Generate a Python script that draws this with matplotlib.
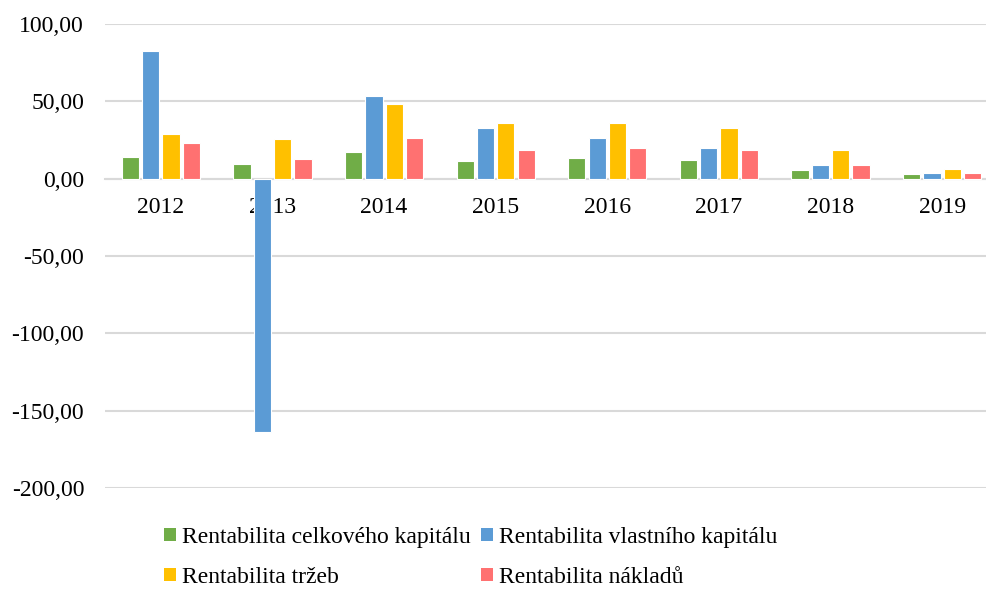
import numpy as np
import matplotlib.pyplot as plt
from matplotlib.patches import Patch
from matplotlib.ticker import FuncFormatter

plt.rcParams['font.family'] = ['Liberation Serif', 'DejaVu Serif']

years = ['2012', '2013', '2014', '2015', '2016', '2017', '2018', '2019']
labels = ['Rentabilita celkového kapitálu', 'Rentabilita vlastního kapitálu',
          'Rentabilita tržeb', 'Rentabilita nákladů']
colors = ['#70AD47', '#5B9BD5', '#FFC000', '#FF7171']

celk = [13.9, 9.5, 17.5, 11.7, 13.4, 12.1, 5.8, 3.0]
vlast = [82.3, -163.8, 53.2, 32.7, 26.6, 19.7, 8.9, 3.9]
trzeb = [28.8, 25.8, 48.5, 36.0, 36.0, 32.5, 18.4, 6.3]
naklad = [23.0, 13.0, 26.6, 18.6, 19.9, 18.6, 8.9, 3.7]
series = [celk, vlast, trzeb, naklad]

fig = plt.figure(figsize=(9.86, 5.89), dpi=100)
ax = fig.add_axes([105/986, 1-488/589, 893/986, 464/589])

x = np.arange(len(years))
pitch = 0.182
w = 0.155
for i, (vals, c) in enumerate(zip(series, colors)):
    ax.bar(x + (i - 1.5) * pitch, vals, w, color=c, edgecolor='white',
           linewidth=0.8, zorder=3)

ax.set_xlim(-0.5, len(years) - 0.5)
ax.set_ylim(-200, 100)
ax.set_yticks(np.arange(-200, 101, 50))
ax.yaxis.set_major_formatter(FuncFormatter(lambda v, p: f'{v:.2f}'.replace('.', ',')))
ax.grid(axis='y', color='#d9d9d9', linewidth=1.5, zorder=0)
ax.set_axisbelow(True)

for s in ['top', 'right', 'left']:
    ax.spines[s].set_visible(False)
ax.spines['bottom'].set_position(('data', 0))
ax.spines['bottom'].set_color('#d9d9d9')
ax.spines['bottom'].set_linewidth(1.5)

ax.set_xticks(x)
ax.set_xticklabels(years)
ax.tick_params(axis='both', length=0, labelsize=17, colors='black')
ax.tick_params(axis='y', pad=15)
ax.tick_params(axis='x', pad=13)

order = [0, 2, 1, 3]
handles = [Patch(facecolor=colors[i], edgecolor='none') for i in order]
fig.legend(handles, [labels[i] for i in order], ncol=2, loc='upper left',
           bbox_to_anchor=(164/986, 1-527/589), frameon=False, fontsize=17,
           borderpad=0, borderaxespad=0,
           handlelength=0.5, handleheight=0.5, handletextpad=0.25,
           columnspacing=0.45, labelspacing=0.8)

fig.savefig('out.png', dpi=100)
